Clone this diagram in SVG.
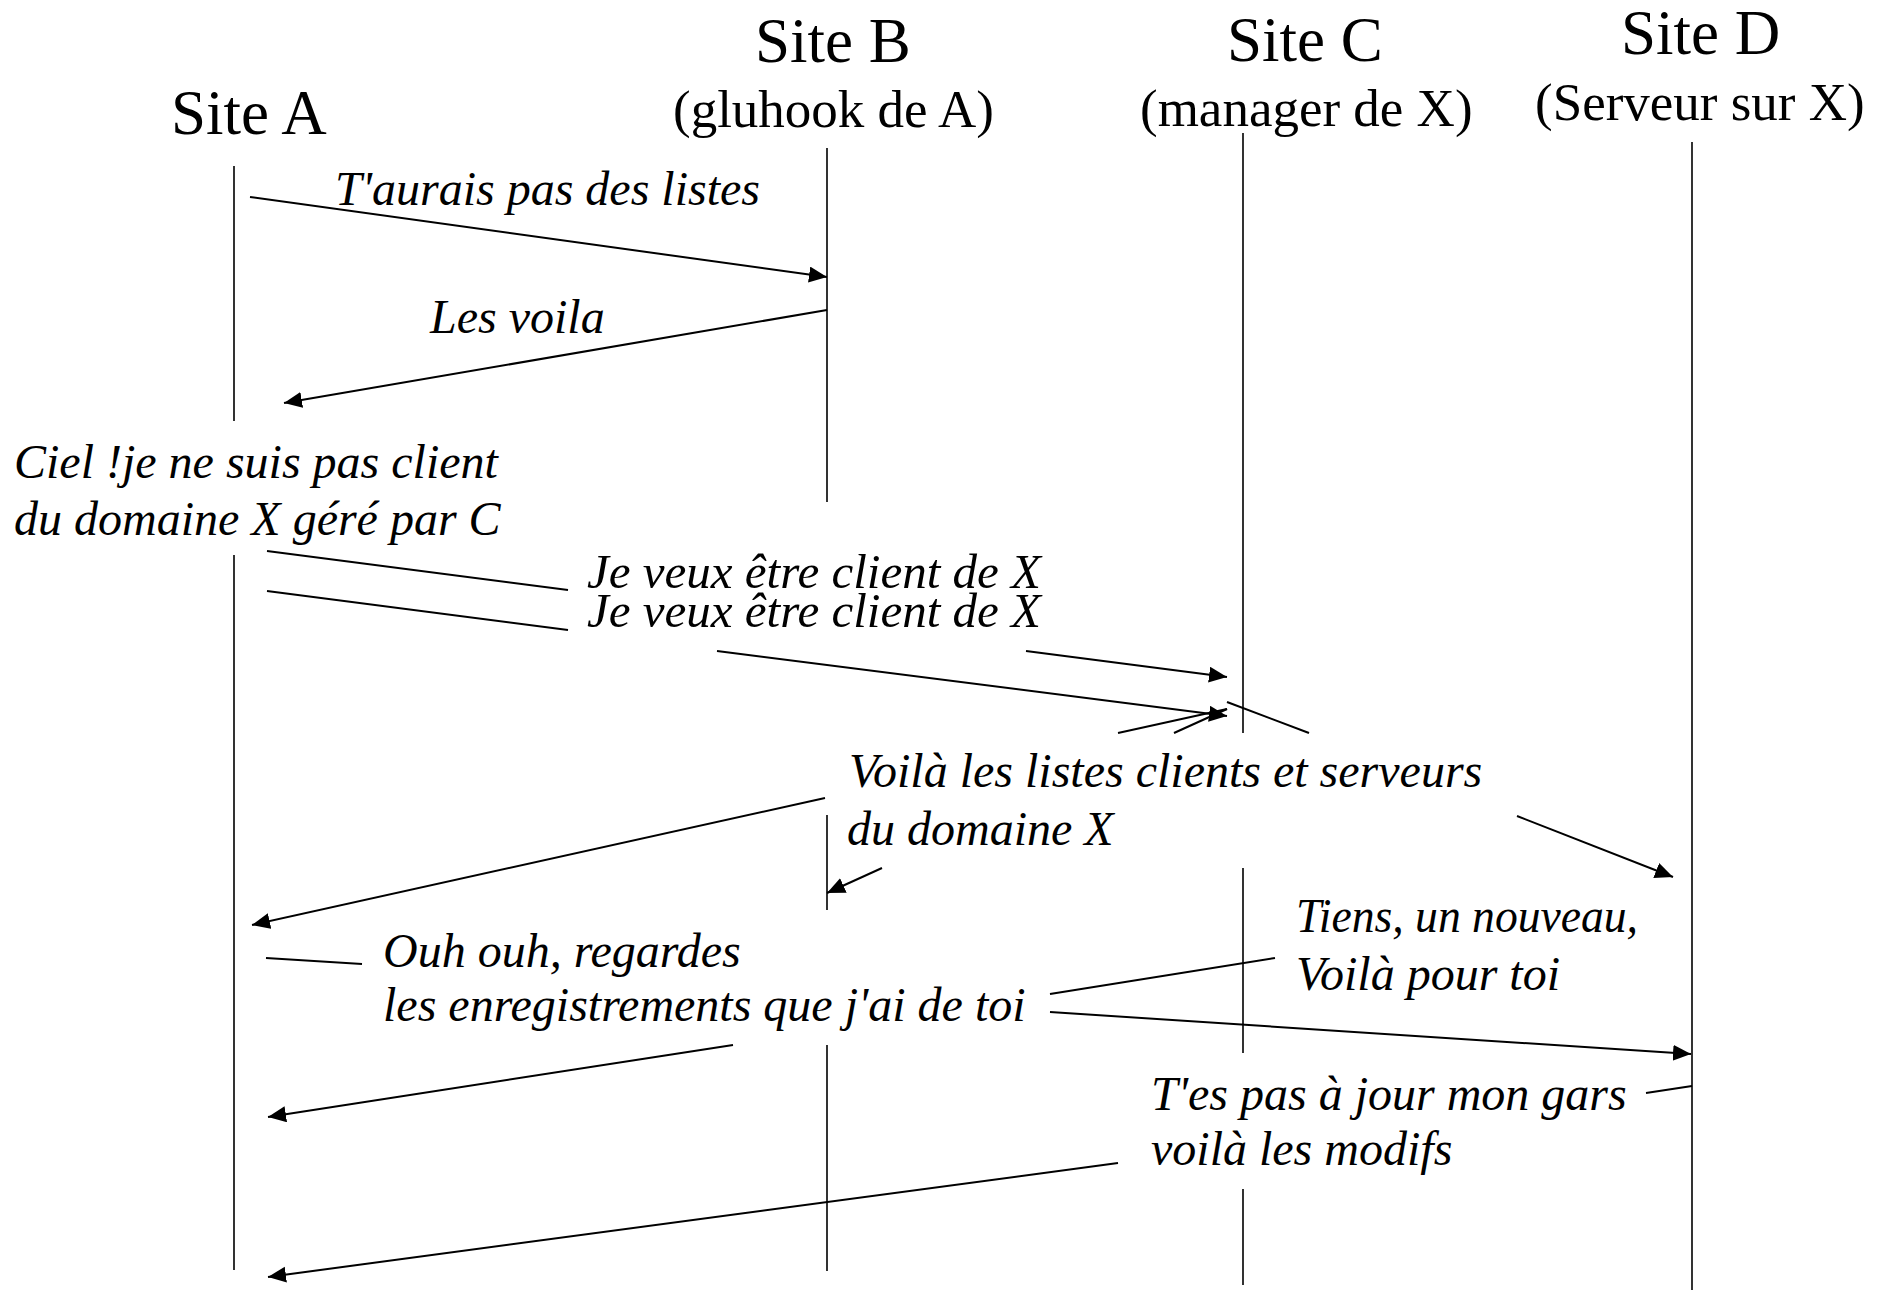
<svg xmlns="http://www.w3.org/2000/svg" width="1885" height="1290" viewBox="0 0 1885 1290">
<style>
  .title { font-family: "Liberation Serif", "Times New Roman", serif; font-size: 63px; fill: #000; }
  .sub { font-family: "Liberation Serif", "Times New Roman", serif; font-size: 53px; fill: #000; }
  .lbl { font-family: "Liberation Serif", "Times New Roman", serif; font-size: 48px; font-style: italic; fill: #000; }
  .life { stroke: #000; stroke-width: 1.6; fill: none; }
  .msg { stroke: #000; stroke-width: 2; fill: none; }
  .arr { marker-end: url(#ah); }
</style>
<defs>
  <marker id="ah" markerUnits="userSpaceOnUse" markerWidth="19" markerHeight="17" refX="18" refY="8" orient="auto">
    <path d="M0,0 L18,8 L0,16 Z" fill="#000"/>
  </marker>
</defs>
<rect width="1885" height="1290" fill="#fff"/>

<g id="siteA">
  <text class="title" x="171" y="134">Site A</text>
  <path class="life" d="M234,166 V421 M234,555 V1270"/>
</g>
<g id="siteB">
  <text class="title" x="755" y="62">Site B</text>
  <text class="sub" x="673" y="127">(gluhook de A)</text>
  <path class="life" d="M827,148 V502 M827,815 V910 M827,1045 V1271"/>
</g>
<g id="siteC">
  <text class="title" x="1227" y="61">Site C</text>
  <text class="sub" x="1140" y="126">(manager de X)</text>
  <path class="life" d="M1243,133 V733 M1243,868 V1053 M1243,1189 V1285"/>
</g>
<g id="siteD">
  <text class="title" x="1621" y="54">Site D</text>
  <text class="sub" x="1535" y="120">(Serveur sur X)</text>
  <path class="life" d="M1692,142 V1290"/>
</g>

<g id="labels">
  <text class="lbl" x="335" y="205">T'aurais pas des listes</text>
  <text class="lbl" x="430" y="333">Les voila</text>
  <text class="lbl" x="14" y="478">Ciel !je ne suis pas client</text>
  <text class="lbl" x="14" y="535">du domaine X géré par C</text>
  <text class="lbl" x="587" y="588" textLength="454" lengthAdjust="spacingAndGlyphs">Je veux être client de X</text>
  <text class="lbl" x="587" y="627" textLength="454" lengthAdjust="spacingAndGlyphs">Je veux être client de X</text>
  <text class="lbl" x="849" y="787">Voilà les listes clients et serveurs</text>
  <text class="lbl" x="847" y="845">du domaine X</text>
  <text class="lbl" x="383" y="967">Ouh ouh, regardes</text>
  <text class="lbl" x="383" y="1021">les enregistrements que j'ai de toi</text>
  <text class="lbl" x="1296" y="932" textLength="342" lengthAdjust="spacingAndGlyphs">Tiens, un nouveau,</text>
  <text class="lbl" x="1296" y="990">Voilà pour toi</text>
  <text class="lbl" x="1151" y="1110">T'es pas à jour mon gars</text>
  <text class="lbl" x="1151" y="1165">voilà les modifs</text>
</g>

<g id="connectors">
  <path class="msg arr" d="M250,197 L827,277"/>
  <path class="msg arr" d="M827,310 L284,403"/>
  <path class="msg" d="M267,551 L568,590"/>
  <path class="msg" d="M267,591 L568,630"/>
  <path class="msg arr" d="M1026,651 L1227,677"/>
  <path class="msg arr" d="M717,651 L1227,716"/>
  <path class="msg" d="M1227,709 L1118,733"/>
  <path class="msg arr" d="M825,798 L252,925"/>
  <path class="msg" d="M1227,709 L1174,733"/>
  <path class="msg arr" d="M882,868 L827,893"/>
  <path class="msg" d="M1227,702 L1309,733"/>
  <path class="msg arr" d="M1517,816 L1673,877"/>
  <path class="msg" d="M266,958 L362,964"/>
  <path class="msg arr" d="M733,1045 L268,1117"/>
  <path class="msg" d="M1050,994 L1275,958"/>
  <path class="msg arr" d="M1050,1012 L1691,1054"/>
  <path class="msg" d="M1692,1086 L1646,1093"/>
  <path class="msg arr" d="M1118,1163 L268,1277"/>
</g>
</svg>
